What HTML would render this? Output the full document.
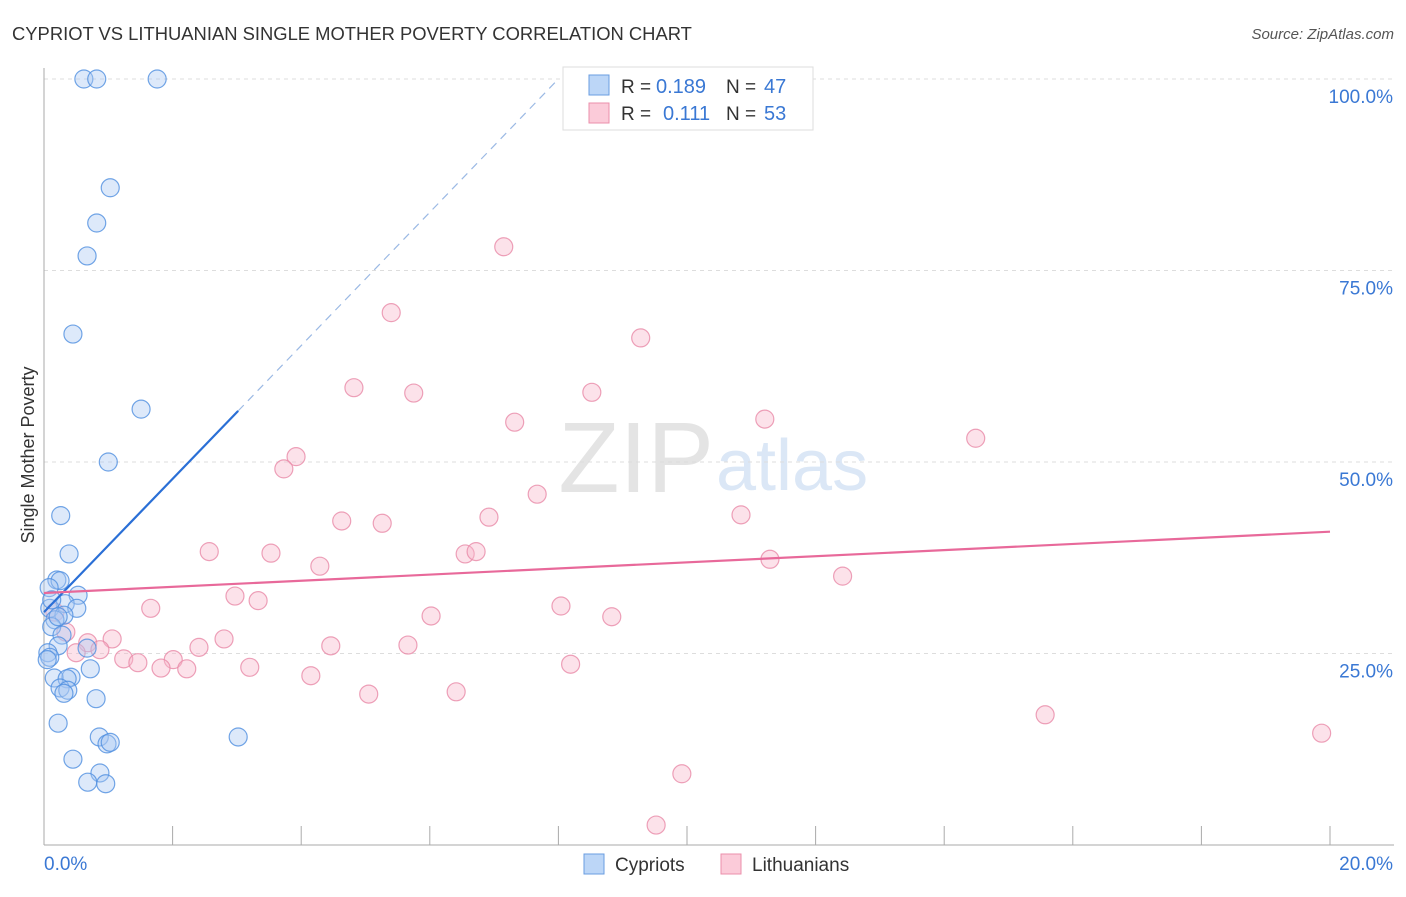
<!DOCTYPE html>
<html><head><meta charset="utf-8"><style>
body{margin:0;background:#fff;font-family:"Liberation Sans",sans-serif}
svg text{font-family:"Liberation Sans",sans-serif}
</style></head><body>
<svg id="c" width="1406" height="892" xmlns="http://www.w3.org/2000/svg">
<text x="12" y="40" font-size="18.4" fill="#333">CYPRIOT VS LITHUANIAN SINGLE MOTHER POVERTY CORRELATION CHART</text>
<text x="1394" y="39" font-size="15" fill="#555" text-anchor="end" font-style="italic">Source: ZipAtlas.com</text>
<text x="714" y="492" font-size="100" fill="#e4e4e4" text-anchor="end" font-family="Liberation Serif">ZIP</text>
<text x="716" y="490" font-size="72" fill="#dbe7f6">atlas</text>
<g id="grid"></g><g id="axes"></g><g id="marks"></g>
<text transform="translate(34,455) rotate(-90)" font-size="18" fill="#333" text-anchor="middle">Single Mother Poverty</text>
<g>
<rect x="563" y="67" width="250" height="63" fill="#fff" stroke="#ddd"/>
<rect x="589" y="75" width="20" height="20" fill="#bcd6f7" stroke="#6a9de0"/>
<rect x="589" y="103" width="20" height="20" fill="#fbcbd9" stroke="#eb8fab"/>
<text x="621" y="93" font-size="19" fill="#333">R =</text>
<text x="656" y="93" font-size="20" fill="#3a78d4">0.189</text>
<text x="726" y="93" font-size="19" fill="#333">N =</text>
<text x="764" y="93" font-size="20" fill="#3a78d4">47</text>
<text x="621" y="120" font-size="19" fill="#333">R =</text>
<text x="663" y="120" font-size="20" fill="#3a78d4">0.111</text>
<text x="726" y="120" font-size="19" fill="#333">N =</text>
<text x="764" y="120" font-size="20" fill="#3a78d4">53</text>
</g>
<g>
<rect x="584" y="854" width="20" height="20" fill="#bcd6f7" stroke="#6a9de0"/>
<text x="615" y="871" font-size="19" fill="#333">Cypriots</text>
<rect x="721" y="854" width="20" height="20" fill="#fbcbd9" stroke="#eb8fab"/>
<text x="752" y="871" font-size="19" fill="#333">Lithuanians</text>
</g>
</svg>
<script>
const blueX=[0.62,0.82,1.76,1.03,0.82,0.67,0.45,1.51,1.00,0.26,0.39,0.20,0.25,0.53,0.08,0.33,0.09,0.51,0.31,0.17,0.12,0.28,0.22,0.67,0.06,0.09,0.72,0.16,0.42,0.36,0.25,0.37,0.31,0.81,0.22,0.86,0.98,1.03,3.02,0.45,0.87,0.68,0.96,0.12,0.22,0.05];
const blueY=[100,100,100,85.8,81.2,76.9,66.7,56.9,50.0,43.0,38.0,34.6,34.5,32.6,33.6,31.5,30.9,30.9,30.0,29.4,28.5,27.4,26.0,25.7,25.1,24.5,23.0,21.8,21.9,21.7,20.5,20.2,19.8,19.1,15.9,14.1,13.2,13.4,14.1,11.2,9.4,8.2,8.0,32.0,29.8,24.2];
const pinkX=[7.15,5.40,9.28,4.82,5.75,8.52,7.32,11.21,14.49,3.92,3.73,7.67,6.92,4.63,5.26,10.84,2.57,3.53,6.55,6.72,11.29,4.29,12.42,2.97,3.33,1.66,8.04,6.02,8.83,0.34,1.06,2.80,0.68,2.41,4.46,5.66,0.87,0.50,1.24,1.46,2.01,1.82,2.22,3.20,8.19,4.15,5.05,6.41,15.57,19.87,9.92,9.52,0.17];
const pinkY=[78.1,69.5,66.2,59.7,59.0,59.1,55.2,55.6,53.1,50.7,49.1,45.8,42.8,42.3,42.0,43.1,38.3,38.1,38.0,38.3,37.3,36.4,35.1,32.5,31.9,30.9,31.2,29.9,29.8,27.8,26.9,26.9,26.4,25.8,26.0,26.1,25.5,25.1,24.3,23.8,24.2,23.1,23.0,23.2,23.6,22.1,19.7,20.0,17.0,14.6,9.3,2.6,30.4];
const blueTrend=[30.4,8.7]; // intercept, slope per %
const pinkTrend=[32.9,0.4];
const yTicks=[25,50,75,100];
const yTickLabels=["25.0%","50.0%","75.0%","100.0%"];
const NS="http://www.w3.org/2000/svg";
const X=v=>44+v/20*1286, Y=v=>845-v/100*766;
function mk(p,t,a){const e=document.createElementNS(NS,t);for(const k in a)e.setAttribute(k,a[k]);p.appendChild(e);return e;}
const grid=document.getElementById('grid'),axes=document.getElementById('axes'),marks=document.getElementById('marks');
yTicks.forEach((t,i)=>{
 const l=mk(grid,'line',{x1:44,x2:1394,y1:Y(t),y2:Y(t),stroke:'#ddd','stroke-dasharray':'4,4'});
 
 
 const tx=mk(axes,'text',{x:1393,y:Y(t)+24,'font-size':19,fill:'#3a78d4','text-anchor':'end'});
 tx.textContent=yTickLabels[i];
 
 
});
let a=mk(axes,'line',{x1:44,x2:44,y1:68,y2:845,stroke:'#aaa'});


a=mk(axes,'line',{x1:44,x2:1394,y1:845,y2:845,stroke:'#aaa'});


for(let i=0;i<=10;i++){const t=mk(axes,'line',{x1:X(i*2),x2:X(i*2),y1:826,y2:845,stroke:'#aaa'});
 
 }
let xl=mk(axes,'text',{x:44,y:870,'font-size':19,fill:'#3a78d4'});xl.textContent='0.0%';


xl=mk(axes,'text',{x:1393,y:870,'font-size':19,fill:'#3a78d4','text-anchor':'end'});xl.textContent='20.0%';


function dots(xs,ys,fill,stroke,name){xs.forEach((x,i)=>{const c=mk(marks,'circle',{cx:X(x),cy:Y(ys[i]),r:9,fill:fill,'fill-opacity':0.4,stroke:stroke,'stroke-opacity':0.8,'stroke-width':1.2});
 
 });}
dots(pinkX,pinkY,'#f7b7ca','#e88aa8','lithuanian-point');
dots(blueX,blueY,'#a9c9f2','#4f8ee0','cypriot-point');
const bx=3.02,bEnd=(100-blueTrend[0])/blueTrend[1];
let tl=mk(marks,'line',{x1:X(0),y1:Y(blueTrend[0]),x2:X(bx),y2:Y(blueTrend[0]+blueTrend[1]*bx),stroke:'#2a6fd6','stroke-width':2.2});


tl=mk(marks,'line',{x1:X(bx),y1:Y(blueTrend[0]+blueTrend[1]*bx),x2:X(bEnd),y2:Y(100),stroke:'#9bb9e4','stroke-width':1.2,'stroke-dasharray':'8,6'});


tl=mk(marks,'line',{x1:X(0),y1:Y(pinkTrend[0]),x2:X(20),y2:Y(pinkTrend[0]+pinkTrend[1]*20),stroke:'#e8699a','stroke-width':2.2});


</script>
</body></html>
